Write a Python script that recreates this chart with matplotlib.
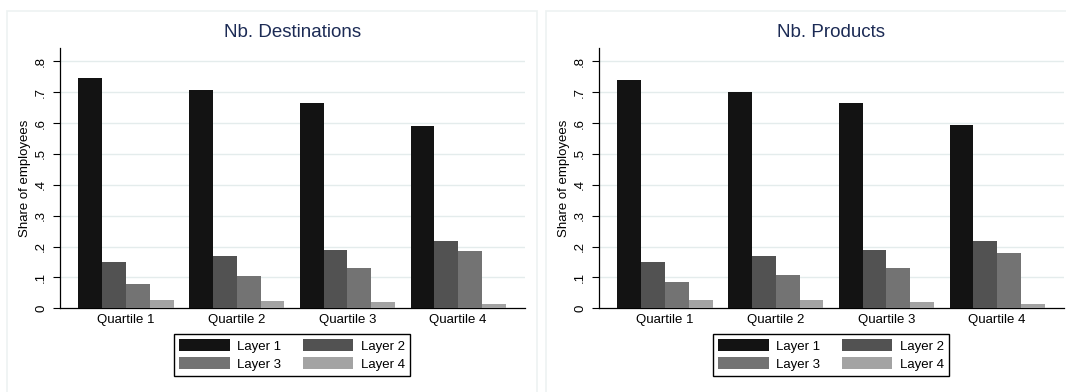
import matplotlib
matplotlib.use('Agg')
import matplotlib.pyplot as plt
from matplotlib.patches import Rectangle
import numpy as np

plt.rcParams['font.family'] = ['Liberation Sans', 'DejaVu Sans']

# Данные
quartiles = ['Quartile 1', 'Quartile 2', 'Quartile 3', 'Quartile 4']
layers = ['Layer 1', 'Layer 2', 'Layer 3', 'Layer 4']
y_ticks = [0, 0.1, 0.2, 0.3, 0.4, 0.5, 0.6, 0.7, 0.8]
y_tick_labels = ['0', '.1', '.2', '.3', '.4', '.5', '.6', '.7', '.8']

titles = ['Nb. Destinations', 'Nb. Products']
dest_layer1 = [0.746, 0.707, 0.665, 0.589]
dest_layer2 = [0.149, 0.168, 0.189, 0.217]
dest_layer3 = [0.079, 0.104, 0.130, 0.184]
dest_layer4 = [0.028, 0.025, 0.019, 0.014]
prod_layer1 = [0.740, 0.702, 0.665, 0.593]
prod_layer2 = [0.151, 0.170, 0.189, 0.218]
prod_layer3 = [0.085, 0.107, 0.130, 0.179]
prod_layer4 = [0.027, 0.026, 0.021, 0.014]

panels = [
    [dest_layer1, dest_layer2, dest_layer3, dest_layer4],
    [prod_layer1, prod_layer2, prod_layer3, prod_layer4],
]

colors = ['#131313', '#525252', '#737373', '#a3a3a3']
grid_col = '#e4ecec'
title_col = '#1c2b55'

W, H = 1066, 392
fig = plt.figure(figsize=(W / 100, H / 100), dpi=100)

# рамки панелей (как в Stata)
for x0, x1 in [(7, 537), (546, 1070)]:
    fig.patches.append(Rectangle((x0 / W, -0.05), (x1 - x0) / W, (H - 11) / H + 0.05,
                                 transform=fig.transFigure, fill=False,
                                 edgecolor='#edf2f2', linewidth=1.2))

ax_left = [59.6, 598.6]
ax_w = 465
ax_bottom = (H - 308.3) / H
ax_h = (308.3 - 48.3) / H
bw = 0.215
x = np.arange(len(quartiles))

for k, series in enumerate(panels):
    ax = fig.add_axes([ax_left[k] / W, ax_bottom, ax_w / W, ax_h])
    bars = []
    for i, vals in enumerate(series):
        b = ax.bar(x + (i - 1.5) * bw, vals, bw, color=colors[i], label=layers[i],
                   linewidth=0, zorder=3)
        bars.append(b)
    ax.set_xlim(-0.6, 3.6)
    ax.set_ylim(0, 0.842)
    ax.set_yticks(y_ticks)
    ax.set_yticklabels(y_tick_labels, rotation=90, va='center', fontsize=9.5)
    ax.set_xticks(x)
    ax.set_xticklabels(quartiles, fontsize=9.5)
    ax.tick_params(axis='x', length=0, pad=4)
    ax.tick_params(axis='y', length=5, width=0.8, pad=4)
    for v in y_ticks[1:]:
        ax.axhline(v, color=grid_col, linewidth=1, zorder=1)
    ax.spines['top'].set_visible(False)
    ax.spines['right'].set_visible(False)
    ax.spines['left'].set_linewidth(0.9)
    ax.spines['bottom'].set_linewidth(0.9)
    ax.set_ylabel('Share of employees', fontsize=9.5, labelpad=3)
    ax.set_title(titles[k], fontsize=13.5, color=title_col, pad=8)

    # легенда построчно: Layer 1, Layer 2 / Layer 3, Layer 4
    order = [0, 2, 1, 3]
    cx = (ax_left[k] + ax_w / 2) / W
    leg = fig.legend([bars[i] for i in order], [layers[i] for i in order],
                     loc='upper center', bbox_to_anchor=(cx, (H - 334) / H), ncol=2,
                     fontsize=9.5, frameon=True, fancybox=False, framealpha=1,
                     edgecolor='black', handlelength=3.8, handleheight=1.0,
                     handletextpad=0.6, columnspacing=1.6, borderpad=0.4,
                     labelspacing=0.35, borderaxespad=0)
    leg.get_frame().set_linewidth(1.0)

plt.savefig('out.png', dpi=100)
